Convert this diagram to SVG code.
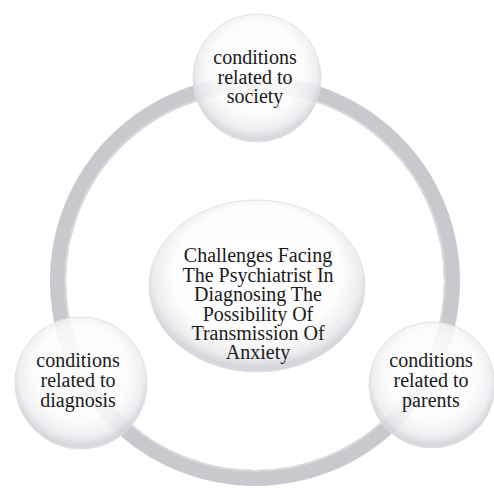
<svg xmlns="http://www.w3.org/2000/svg" width="494" height="488" viewBox="0 0 494 488">
<defs>
<radialGradient id="glass" cx="50%" cy="45%" r="52%" fx="50%" fy="35%">
<stop offset="0" stop-color="#ffffff" stop-opacity="0.92"/>
<stop offset="0.7" stop-color="#fbfbfc" stop-opacity="0.85"/>
<stop offset="0.9" stop-color="#ececf0" stop-opacity="0.85"/>
<stop offset="1" stop-color="#d4d4da" stop-opacity="0.9"/>
</radialGradient>
<radialGradient id="glassC" cx="50%" cy="45%" r="52%" fx="50%" fy="35%">
<stop offset="0" stop-color="#ffffff"/>
<stop offset="0.75" stop-color="#fdfdfd"/>
<stop offset="0.92" stop-color="#ededf0"/>
<stop offset="1" stop-color="#d6d6dc"/>
</radialGradient>
</defs>
<style>
.node { fill: url(#glass); stroke: #e2e2e6; stroke-width: 1; }
.center { fill: url(#glassC); stroke: #e2e2e6; stroke-width: 1; }
.ring { fill: none; stroke: #c8c8ce; stroke-width: 16; }
.ringhi { fill: none; stroke: #d8d8dd; stroke-width: 2; }
text { font-family: "Liberation Serif", "Times New Roman", serif; font-size: 20px; fill: #1a1a1a; text-anchor: middle; }
</style>
<g id="connectors">
<circle class="ring" cx="255" cy="281" r="197"/>
<circle class="ringhi" cx="255" cy="281" r="190"/>
</g>
<g id="center">
<ellipse class="center" cx="257" cy="286" rx="108" ry="86"/>
<text x="258" y="262">Challenges Facing</text>
<text x="258" y="281.5">The Psychiatrist In</text>
<text x="258" y="301">Diagnosing The</text>
<text x="258" y="320.5">Possibility Of</text>
<text x="258" y="340">Transmission Of</text>
<text x="258" y="359">Anxiety</text>
</g>
<g id="society">
<circle class="node" cx="257" cy="78" r="64"/>
<text x="255" y="64">conditions</text>
<text x="255" y="83.5">related to</text>
<text x="255" y="103">society</text>
</g>
<g id="diagnosis">
<circle class="node" cx="81" cy="383" r="66"/>
<text x="78" y="367">conditions</text>
<text x="78" y="387">related to</text>
<text x="78" y="407">diagnosis</text>
</g>
<g id="parents">
<circle class="node" cx="432" cy="385" r="63"/>
<text x="431" y="367">conditions</text>
<text x="431" y="387">related to</text>
<text x="431" y="407">parents</text>
</g>
</svg>
